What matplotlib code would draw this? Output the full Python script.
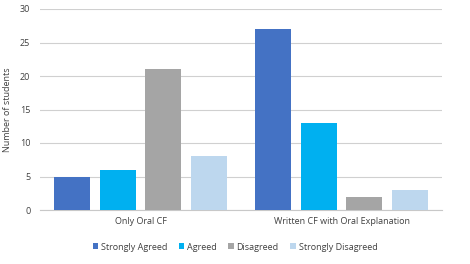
import matplotlib
matplotlib.use("Agg")
import matplotlib.pyplot as plt
import numpy as np

plt.rcParams['font.family'] = ['Open Sans', 'DejaVu Sans']

categories = ["Only Oral CF", "Written CF with Oral Explanation"]
series_names = ["Strongly Agreed", "Agreed", "Disagreed", "Strongly Disagreed"]
strongly_agreed = [5, 27]
agreed = [6, 13]
disagreed = [21, 2]
strongly_disagreed = [8, 3]
values = [strongly_agreed, agreed, disagreed, strongly_disagreed]
colors = ["#4472C4", "#00B0F0", "#A5A5A5", "#BDD7EE"]
yticks = [0, 5, 10, 15, 20, 25, 30]

fig = plt.figure(figsize=(4.70, 2.64), dpi=100)
ax = fig.add_axes([40/470, 1-210/264, 402/470, 201/264])

x = np.arange(len(categories))
w = 0.18
step = 0.227
for i, (vals, c, name) in enumerate(zip(values, colors, series_names)):
    ax.bar(x + (i - 1.5) * step, vals, width=w, color=c, label=name, zorder=3)

ax.set_xlim(-0.5, 1.5)
ax.set_ylim(0, 30)
ax.set_yticks(yticks)
ax.yaxis.grid(True, color="#D0D0D0", linewidth=0.8, zorder=0)
ax.set_xticks(x)
ax.set_xticklabels(categories, fontsize=6.5, color="#404040")
ax.tick_params(axis='both', length=0, labelsize=6.5, colors="#404040")
ax.tick_params(axis='x', pad=5)
ax.tick_params(axis='y', pad=7)
for s in ["top", "right", "left"]:
    ax.spines[s].set_visible(False)
ax.spines["bottom"].set_color("#C8C8C8")
ax.set_ylabel("Number of students", fontsize=6.5, color="#404040")
ax.yaxis.set_label_coords(-(40-12)/402, 0.5)

leg = fig.legend(loc="center", bbox_to_anchor=(0.5, 1-247/264), ncol=4, frameon=False,
                 fontsize=6.5, handlelength=0.6, handleheight=0.6, handletextpad=0.3,
                 columnspacing=1.3, labelcolor="#404040")

fig.savefig("out.png", dpi=100)
